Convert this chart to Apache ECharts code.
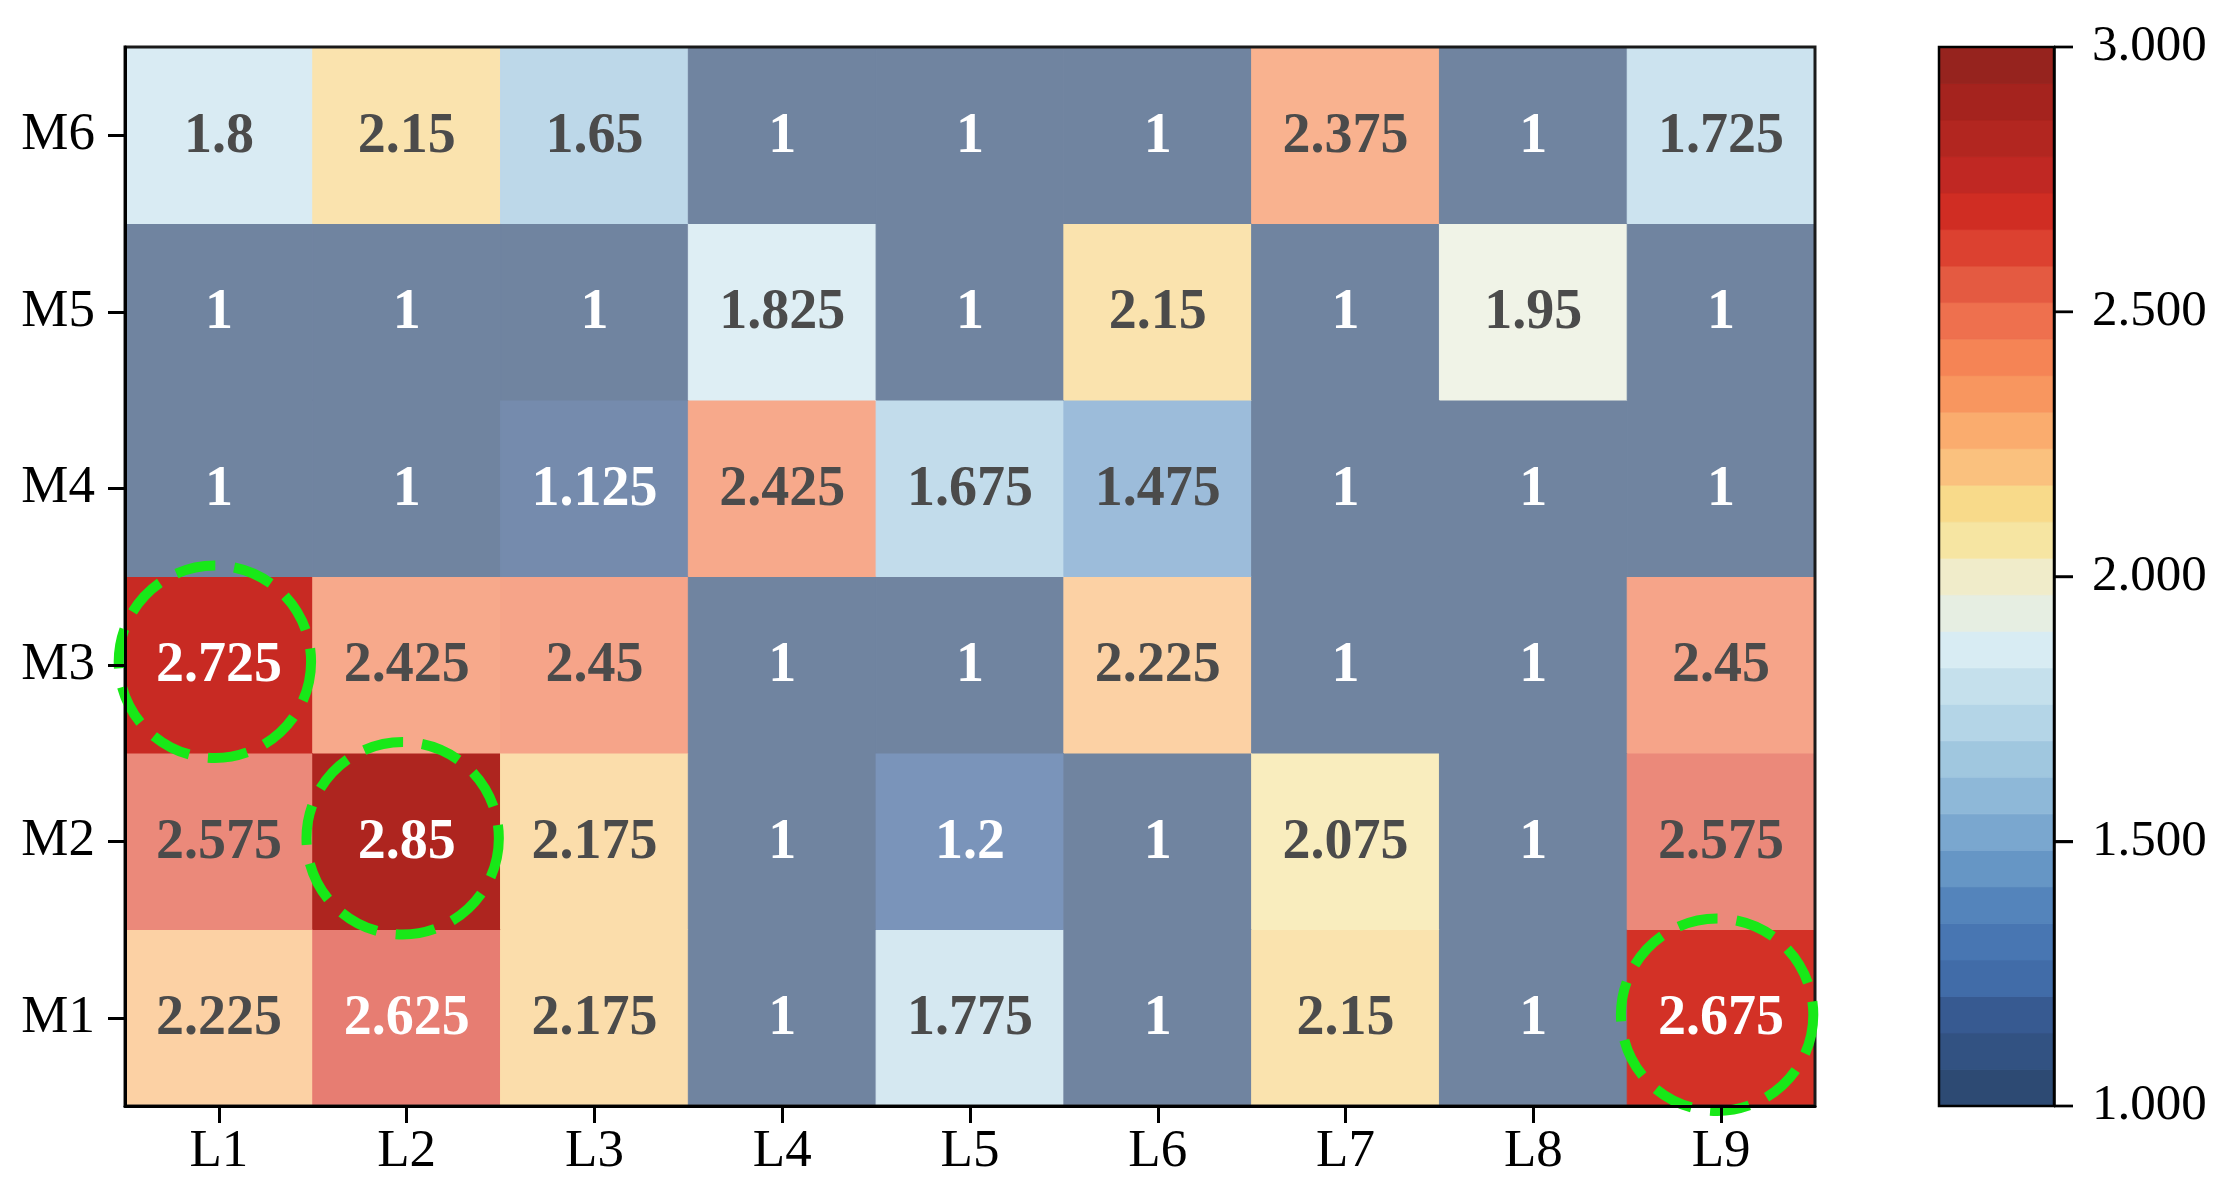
<!DOCTYPE html>
<html><head><meta charset="utf-8">
<script src="https://cdn.jsdelivr.net/npm/echarts@6/dist/echarts.min.js"></script>
<style>html,body{margin:0;padding:0;background:#fff}#c{width:2230px;height:1190px}</style>
</head><body><div id="c"></div>
<script>
// ---- data ----
const xCategories = ['L1','L2','L3','L4','L5','L6','L7','L8','L9'];
const yCategories = ['M1','M2','M3','M4','M5','M6'];
const rowM1 = [2.225, 2.625, 2.175, 1, 1.775, 1, 2.15, 1, 2.675];
const rowM2 = [2.575, 2.85, 2.175, 1, 1.2, 1, 2.075, 1, 2.575];
const rowM3 = [2.725, 2.425, 2.45, 1, 1, 2.225, 1, 1, 2.45];
const rowM4 = [1, 1, 1.125, 2.425, 1.675, 1.475, 1, 1, 1];
const rowM5 = [1, 1, 1, 1.825, 1, 2.15, 1, 1.95, 1];
const rowM6 = [1.8, 2.15, 1.65, 1, 1, 1, 2.375, 1, 1.725];
const highlightCells = [['L1','M3'], ['L2','M2'], ['L9','M1']];
const colorbarTicks = [1, 1.5, 2, 2.5, 3];
const vMin = 1, vMax = 3;
// banded colormap, bottom (1.0) to top (3.0)
const bandColors = [
  [45,74,115],[50,82,130],[55,90,145],[65,108,168],[72,118,178],[84,132,187],[102,150,197],
  [122,167,207],[142,184,216],[160,199,223],[180,213,231],[197,224,236],[216,236,243],
  [230,238,226],[240,236,202],[246,229,162],[248,218,138],[250,193,126],[250,172,110],
  [248,150,95],[245,132,85],[238,112,78],[228,90,65],[220,65,48],[208,45,35],
  [192,40,35],[178,38,32],[165,35,30],[150,35,30]
];

// ---- helpers ----
const rows = [rowM1, rowM2, rowM3, rowM4, rowM5, rowM6];
const N = bandColors.length;
const cellAlpha = 0.68;
function cmap(v){
  const p = (v - vMin) / (vMax - vMin) * N - 0.5;
  if (p <= 0) return bandColors[0].slice();
  if (p >= N - 1) return bandColors[N - 1].slice();
  const i = Math.floor(p), f = p - i;
  return bandColors[i].map((k, j) => k + (bandColors[i + 1][j] - k) * f);
}
function rgb(c){ return 'rgb(' + c.map(Math.round).join(',') + ')'; }
function blend(c, a){ return c.map(k => 255 - a * (255 - k)); }
function isHL(xi, yi){
  return highlightCells.some(h => h[0] === xCategories[xi] && h[1] === yCategories[yi]);
}
const cellData = [];
rows.forEach((r, yi) => r.forEach((v, xi) => cellData.push([xi, yi, v])));
const hlData = highlightCells.map(h => [xCategories.indexOf(h[0]), yCategories.indexOf(h[1])]);
const fontFamily = '"Liberation Serif", "Times New Roman", serif';

const chart = echarts.init(document.getElementById('c'), null, {renderer: 'canvas'});
chart.setOption({
  backgroundColor: '#ffffff',
  animation: false,
  grid: [
    {left: 125, right: 415, top: 47, bottom: 84},
    {left: 1939, right: 176, top: 47, bottom: 84}
  ],
  xAxis: [
    {type: 'category', data: xCategories, gridIndex: 0, z: 10,
     axisLine: {show: true, lineStyle: {color: '#000', width: 3}},
     axisTick: {show: true, alignWithLabel: true, length: 17, lineStyle: {color: '#000', width: 3}},
     axisLabel: {color: '#000', fontFamily: fontFamily, fontSize: 53, margin: 20},
     splitLine: {show: false}},
    {type: 'value', gridIndex: 1, min: 0, max: 1, show: false}
  ],
  yAxis: [
    {type: 'category', data: yCategories, gridIndex: 0, z: 10,
     axisLine: {show: true, lineStyle: {color: '#000', width: 3}},
     axisTick: {show: true, alignWithLabel: true, length: 17, lineStyle: {color: '#000', width: 3}},
     axisLabel: {color: '#000', fontFamily: fontFamily, fontSize: 53, margin: 30},
     splitLine: {show: false}},
    {type: 'value', gridIndex: 1, min: vMin, max: vMax, interval: 0.5, position: 'right', z: 10,
     axisLine: {show: true, onZero: false, lineStyle: {color: '#000', width: 2.5}},
     axisTick: {show: true, inside: false, length: 19, lineStyle: {color: '#000', width: 2.4}},
     axisLabel: {color: '#000', fontFamily: fontFamily, fontSize: 51, margin: 38,
                 formatter: v => colorbarTicks.includes(v) ? v.toFixed(3) : ''},
     splitLine: {show: false}}
  ],
  series: [
    {
      type: 'custom', xAxisIndex: 0, yAxisIndex: 0, z: 2, data: cellData,
      renderItem: function(params, api){
        const xi = api.value(0), yi = api.value(1), v = api.value(2);
        const c = api.coord([xi, yi]);
        const s = api.size([1, 1]);
        const hl = isHL(xi, yi);
        const base = cmap(v);
        const fill = rgb(hl ? base : blend(base, cellAlpha));
        const white = (v < 1.3 || v > 2.6);
        return {type: 'group', children: [
          {type: 'rect', shape: {x: c[0] - s[0] / 2, y: c[1] - s[1] / 2, width: s[0], height: s[1]},
           style: {fill: fill, stroke: fill, lineWidth: 1}},
          {type: 'text', z2: 10, style: {text: String(v), x: c[0], y: c[1] + 2, align: 'center', verticalAlign: 'middle',
            font: 'bold 56px ' + fontFamily, fill: white ? '#ffffff' : '#4b4b4b'}}
        ]};
      }
    },
    {
      type: 'custom', xAxisIndex: 0, yAxisIndex: 0, z: 4, data: hlData, clip: false,
      renderItem: function(params, api){
        const c = api.coord([api.value(0), api.value(1)]);
        const s = api.size([1, 1]);
        return {type: 'circle', shape: {cx: c[0] - 4, cy: c[1] - 3, r: s[1] * 0.545},
          style: {fill: 'none', stroke: '#18e818', lineWidth: 10, lineDash: [40, 19]}};
      }
    },
    {
      type: 'custom', xAxisIndex: 0, yAxisIndex: 0, z: 3, data: [[0, 0]], clip: false,
      renderItem: function(params, api){
        const cs = params.coordSys;
        return {type: 'rect', shape: {x: cs.x, y: cs.y, width: cs.width, height: cs.height},
          style: {fill: 'none', stroke: '#1a1a1a', lineWidth: 3}};
      }
    },
    {
      type: 'custom', xAxisIndex: 1, yAxisIndex: 1, z: 2, data: bandColors.map((c, i) => [0, i]),
      renderItem: function(params, api){
        const cs = params.coordSys;
        const i = api.value(1);
        const lo = vMin + i * (vMax - vMin) / N, hi = lo + (vMax - vMin) / N;
        const yLo = api.coord([0, lo])[1], yHi = api.coord([0, hi])[1];
        const col = rgb(bandColors[i]);
        return {type: 'rect', shape: {x: cs.x, y: yHi, width: cs.width, height: yLo - yHi},
          style: {fill: col, stroke: col, lineWidth: 0.8}};
      }
    },
    {
      type: 'custom', xAxisIndex: 1, yAxisIndex: 1, z: 5, clip: false,
      data: colorbarTicks.map(t => [0, t]),
      renderItem: function(params, api){
        const cs = params.coordSys;
        const y = api.coord([0, api.value(1)])[1];
        const children = [{type: 'rect', shape: {x: cs.x + cs.width, y: y - 1.2, width: 19, height: 2.4},
          style: {fill: '#000'}}];
        if (params.dataIndex === 0) {
          children.push({type: 'rect', shape: {x: cs.x, y: cs.y, width: cs.width, height: cs.height},
            style: {fill: 'none', stroke: '#000', lineWidth: 2.5}});
        }
        return {type: 'group', children: children};
      }
    }
  ]
});
</script></body></html>
